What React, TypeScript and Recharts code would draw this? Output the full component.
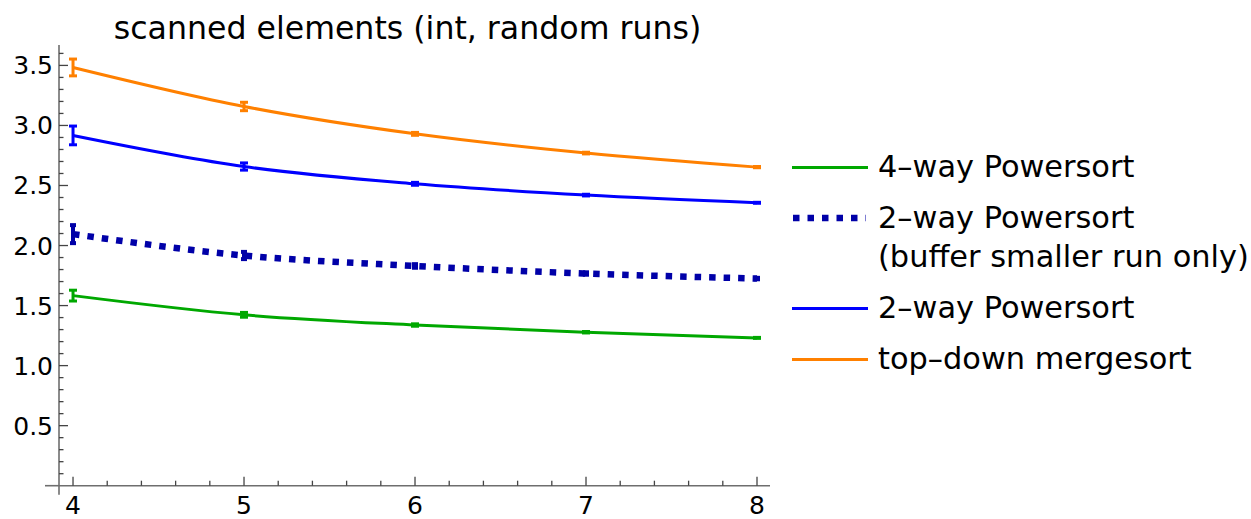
import React from 'react';
import { LineChart, Line, XAxis, YAxis, ErrorBar, Legend, ReferenceLine } from 'recharts';

const xValues = [4, 5, 6, 7, 8];
const fourWay = [1.583, 1.423, 1.338, 1.278, 1.231];
const fourWayErr = [0.045, 0.02, 0.01, 0.006, 0.004];
const twoWayBuf = [2.095, 1.917, 1.83, 1.767, 1.725];
const twoWayBufErr = [0.075, 0.03, 0.015, 0.01, 0.006];
const twoWay = [2.917, 2.658, 2.514, 2.42, 2.356];
const twoWayErr = [0.078, 0.03, 0.012, 0.007, 0.004];
const topDown = [3.483, 3.158, 2.93, 2.77, 2.653];
const topDownErr = [0.07, 0.035, 0.012, 0.007, 0.005];

const yMajorTicks = [0.5, 1.0, 1.5, 2.0, 2.5, 3.0, 3.5];
const yTicks = [0.1, 0.2, 0.3, 0.4, 0.5, 0.6, 0.7, 0.8, 0.9, 1.0, 1.1, 1.2, 1.3, 1.4, 1.5, 1.6, 1.7, 1.8, 1.9, 2.0, 2.1, 2.2, 2.3, 2.4, 2.5, 2.6, 2.7, 2.8, 2.9, 3.0, 3.1, 3.2, 3.3, 3.4, 3.5, 3.6];
const xMajorTicks = [4, 5, 6, 7, 8];
const xTicks = [4, 4.2, 4.4, 4.6, 4.8, 5, 5.2, 5.4, 5.6, 5.8, 6, 6.2, 6.4, 6.6, 6.8, 7, 7.2, 7.4, 7.6, 7.8, 8];

const title = 'scanned elements (int, random runs)';

const COLORS = {
  green: '#00A800',
  darkBlue: '#0000A8',
  blue: '#0000FF',
  orange: '#FF8000',
};

const legendItems = [
  { lines: ['4–way Powersort'], color: COLORS.green, dotted: false },
  { lines: ['2–way Powersort', '(buffer smaller run only)'], color: COLORS.darkBlue, dotted: true },
  { lines: ['2–way Powersort'], color: COLORS.blue, dotted: false },
  { lines: ['top–down mergesort'], color: COLORS.orange, dotted: false },
];

const data = xValues.map((x, i) => ({
  x,
  fourWay: fourWay[i],
  fourWayErr: fourWayErr[i],
  twoWayBuf: twoWayBuf[i],
  twoWayBufErr: twoWayBufErr[i],
  twoWay: twoWay[i],
  twoWayErr: twoWayErr[i],
  topDown: topDown[i],
  topDownErr: topDownErr[i],
}));

const FONT = '"DejaVu Sans", sans-serif';
const AXIS_COLOR = '#6e6e6e';
const TICK_COLOR = '#444';

const YTick = (props: any) => {
  const { x, y, payload } = props;
  const v = payload.value;
  const major = yMajorTicks.some((m) => Math.abs(m - v) < 1e-6);
  return (
    <g>
      <line x1={x} x2={x + (major ? 9 : 4.5)} y1={y} y2={y} stroke={TICK_COLOR} strokeWidth={1.3} />
      {major && (
        <text x={x - 6} y={y} dy={9} textAnchor="end" fontSize={25} fontFamily={FONT} fill="#000">
          {v.toFixed(1)}
        </text>
      )}
    </g>
  );
};

const XTick = (props: any) => {
  const { x, y, payload } = props;
  const v = payload.value;
  const major = xMajorTicks.some((m) => Math.abs(m - v) < 1e-6);
  return (
    <g>
      <line x1={x} x2={x} y1={y} y2={y - (major ? 9 : 5)} stroke={TICK_COLOR} strokeWidth={1.3} />
      {major && (
        <text x={x} y={y} dy={28} textAnchor="middle" fontSize={25} fontFamily={FONT} fill="#000">
          {String(v)}
        </text>
      )}
    </g>
  );
};

const renderLegend = () => (
  <div style={{ fontFamily: FONT, fontSize: 30.4, color: '#000' }}>
    {legendItems.map((item, i) => (
      <div key={i} style={{ display: 'flex', alignItems: 'flex-start', marginBottom: 12 }}>
        <svg width={88} height={39} style={{ flex: 'none' }}>
          {item.dotted ? (
            <line x1={3} x2={76} y1={20} y2={20} stroke={item.color} strokeWidth={6.5} strokeDasharray="6.5 8" />
          ) : (
            <line x1={2} x2={78} y1={20.5} y2={20.5} stroke={item.color} strokeWidth={3} />
          )}
        </svg>
        <div>
          {item.lines.map((l, j) => (
            <div key={j} style={{ lineHeight: '39px', whiteSpace: 'nowrap' }}>{l}</div>
          ))}
        </div>
      </div>
    ))}
  </div>
);

export default function App() {
  return (
    <div style={{ position: 'absolute', left: 0, top: 0, width: 1251, height: 519, background: '#fff' }}>
      <div
        style={{
          position: 'absolute',
          left: 0,
          width: 815,
          top: 8,
          textAlign: 'center',
          fontFamily: FONT,
          fontSize: 31.6,
          lineHeight: '40px',
          color: '#000',
          zIndex: 2,
        }}
      >
        {title}
      </div>
      <LineChart
        width={1251}
        height={519}
        data={data}
        margin={{ top: 45, right: 481, bottom: 3.3, left: 9 }}
      >
        <XAxis
          dataKey="x"
          type="number"
          domain={[3.918, 8.076]}
          allowDataOverflow
          ticks={xTicks}
          interval={0}
          tickLine={false}
          tickSize={0}
          tickMargin={0}
          height={30}
          axisLine={{ stroke: AXIS_COLOR, strokeWidth: 1.6 }}
          tick={<XTick />}
        />
        <YAxis
          type="number"
          domain={[0, 3.67]}
          allowDataOverflow
          ticks={yTicks}
          interval={0}
          tickLine={false}
          tickSize={0}
          tickMargin={0}
          width={50}
          axisLine={{ stroke: AXIS_COLOR, strokeWidth: 1.6 }}
          tick={<YTick />}
        />
        <ReferenceLine
          segment={[{ x: 3.836, y: 0 }, { x: 3.918, y: 0 }]}
          stroke={AXIS_COLOR}
          strokeWidth={1.6}
          ifOverflow="visible"
        />
        <ReferenceLine
          segment={[{ x: 3.918, y: 0 }, { x: 3.918, y: -0.075 }]}
          stroke={AXIS_COLOR}
          strokeWidth={1.6}
          ifOverflow="visible"
        />
        <Legend
          layout="horizontal"
          verticalAlign="middle"
          align="center"
          content={renderLegend}
          wrapperStyle={{ position: 'absolute', left: 790, top: 147, width: 460 }}
        />
        <Line
          type="monotone"
          dataKey="fourWay"
          stroke={COLORS.green}
          strokeWidth={3}
          dot={false}
          activeDot={false}
          isAnimationActive={false}
        >
          <ErrorBar dataKey="fourWayErr" width={4} stroke={COLORS.green} strokeWidth={3} direction="y" />
        </Line>
        <Line
          type="monotone"
          dataKey="twoWayBuf"
          stroke={COLORS.darkBlue}
          strokeWidth={6.5}
          strokeDasharray="6.5 8"
          dot={false}
          activeDot={false}
          isAnimationActive={false}
        >
          <ErrorBar dataKey="twoWayBufErr" width={3} stroke={COLORS.darkBlue} strokeWidth={4} direction="y" />
        </Line>
        <Line
          type="monotone"
          dataKey="twoWay"
          stroke={COLORS.blue}
          strokeWidth={3}
          dot={false}
          activeDot={false}
          isAnimationActive={false}
        >
          <ErrorBar dataKey="twoWayErr" width={4} stroke={COLORS.blue} strokeWidth={3} direction="y" />
        </Line>
        <Line
          type="monotone"
          dataKey="topDown"
          stroke={COLORS.orange}
          strokeWidth={3}
          dot={false}
          activeDot={false}
          isAnimationActive={false}
        >
          <ErrorBar dataKey="topDownErr" width={4} stroke={COLORS.orange} strokeWidth={3} direction="y" />
        </Line>
      </LineChart>
    </div>
  );
}
